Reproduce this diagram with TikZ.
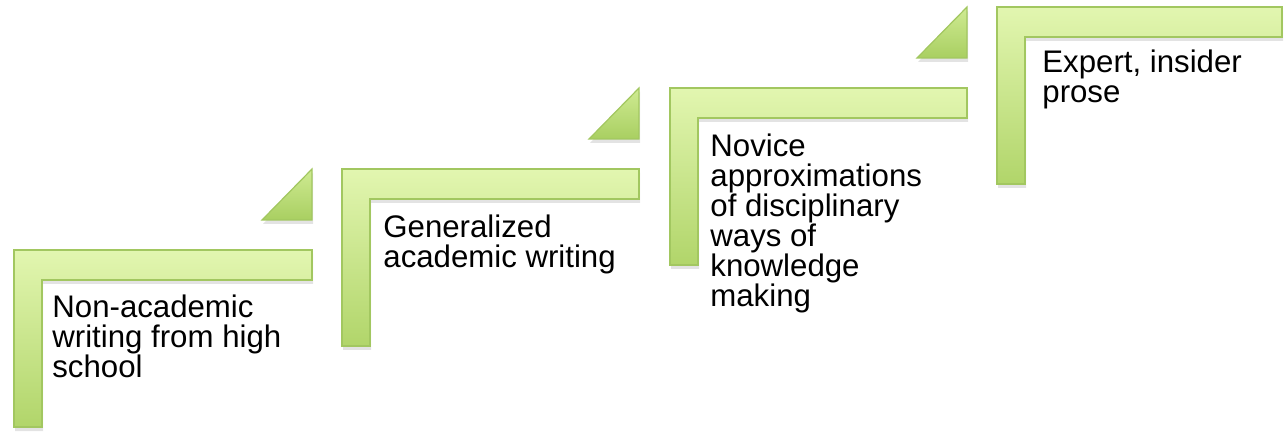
\documentclass[tikz,border=0pt]{standalone}
\usepackage{fontspec}
\setmainfont{Liberation Sans}
\usetikzlibrary{shadows}
\definecolor{stepTop}{HTML}{E2F6B0}
\definecolor{stepBot}{HTML}{B1D56A}
\definecolor{stepLine}{HTML}{A2C760}
\definecolor{triTop}{HTML}{CFEB93}
\definecolor{triBot}{HTML}{A9CF61}

\begin{document}
\begin{tikzpicture}[x=0.5pt, y=-0.5pt,
    stepbar/.style={draw=stepLine, line width=0.6pt, top color=stepTop, bottom color=stepBot,
      drop shadow={shadow xshift=0.5pt, shadow yshift=-2pt, opacity=0.22}},
    steptri/.style={draw=stepLine, line width=0.6pt, top color=triTop, bottom color=triBot,
      drop shadow={shadow xshift=0.5pt, shadow yshift=-2pt, opacity=0.22}},
    steptext/.style={anchor=north west, align=left, inner sep=0pt,
      font=\fontsize{15.6}{15}\selectfont}]
            \useasboundingbox (0,0) rectangle (1284,432);

            % the four steps: left, top, width
            \foreach \x/\y/\w in {14/250/298, 342/169/297, 670/88/297, 997/7/285}
              \shade[stepbar] (\x,\y) -- ++(\w,0) -- ++(0,30) -- ++({28-\w},0)
                -- ++(0,147) -- ++(-28,0) -- cycle;

            % the risers between them
            \foreach \x/\y in {312/220, 639/139, 967/58}
              \shade[steptri] (\x,\y) -- ++(0,-51) -- ++(-50,51) -- cycle;

            \node[steptext] (school) at (52,294) {Non-academic\\writing from high\\school};
            \node[steptext] (general) at (383,214) {Generalized\\academic writing};
            \node[steptext] (novice) at (710,133) {Novice\\approximations\\of disciplinary\\ways of\\knowledge\\making};
            \node[steptext] (expert) at (1042,49) {Expert, insider\\prose};

        \end{tikzpicture}
\end{document}
